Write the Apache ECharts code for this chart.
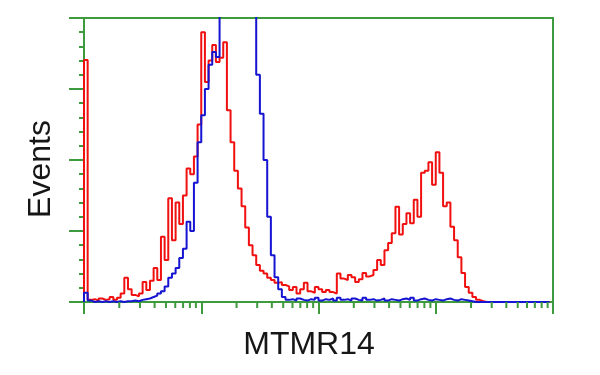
<!DOCTYPE html>
<html><head><meta charset="utf-8">
<script src="https://cdn.jsdelivr.net/npm/echarts@6/dist/echarts.min.js"></script>
<style>html,body{margin:0;padding:0;background:#fff}#c{width:600px;height:375px}</style>
</head><body><div id="c"></div>
<script>
// histogram channels: 32 bins per decade, 4 decades (left edges at 10^(i/32))
const BINS_PER_DECADE = 32;
const redCounts = [
  341,3,4,2,5,3,4,7,3,6,12,34,18,10,8,12,28,17,30,48,
  31,92,59,146,87,140,110,150,188,180,205,250,380,310,340,362,338,344,366,270,
  225,185,160,135,105,80,66,52,44,40,34,31,27,28,24,22,17,21,12,18,
  27,15,13,21,18,14,17,14,12,40,33,31,38,35,28,32,41,36,38,45,
  59,52,73,83,97,134,95,110,125,111,144,120,182,185,197,165,211,182,135,140,
  106,87,63,41,21,13,7,3,1,0,0,0,0,0,0,0,0,0,0,0,
  0,0,0,0,0,0,0,0
];
const blueCounts = [
  13,2,0,1,0,1,0,1,0,1,0,1,1,2,1,3,4,5,7,9,
  12,15,22,34,40,48,62,75,113,100,168,225,263,300,334,352,345,430,490,530,
  560,570,555,530,490,440,420,320,265,200,120,66,35,18,7,3,4,2,5,3,
  2,4,3,6,2,4,3,5,2,6,3,4,2,5,3,2,6,3,4,2,
  3,5,2,4,3,2,4,5,3,6,2,4,5,3,2,4,3,2,4,5,
  3,2,4,3,2,1,0,0,0,0,0,0,0,0,0,0,0,0,0,0,
  0,0,0,0,0,0,0,0
];
const xMinorTicks = [2,3,4,5,6,7,8,9,20,30,40,50,60,70,80,90,200,300,400,500,600,700,800,900,2000,3000,4000,5000,6000,7000,8000,9000];
const xTitle = 'MTMR14';
const yTitle = 'Events';

const GREEN = '#3d9a3d';
function toPairs(counts){
  const d = [[1,0]];
  counts.forEach((v,i)=>d.push([Math.pow(10, i/BINS_PER_DECADE), v]));
  return d;
}
const chart = echarts.init(document.getElementById('c'));
chart.setOption({
  animation:false,
  backgroundColor:'#fff',
  grid:{left:84,right:47,top:18,bottom:73,show:true,borderColor:GREEN,borderWidth:2,backgroundColor:'transparent'},
  xAxis:{type:'log',logBase:10,min:1,max:10000,
    axisLine:{show:true,lineStyle:{color:GREEN,width:2}},
    axisTick:{show:true,length:12,lineStyle:{color:GREEN,width:2}},
    axisLabel:{show:false},splitLine:{show:false}},
  yAxis:{type:'value',min:0,max:400,interval:100,
    axisLine:{show:true,lineStyle:{color:GREEN,width:2}},
    axisTick:{show:true,length:15,lineStyle:{color:GREEN,width:2}},
    minorTick:{show:true,splitNumber:5,length:5,lineStyle:{color:GREEN,width:2}},
    axisLabel:{show:false},splitLine:{show:false}},
  graphic:[
    {type:'text',x:41,y:169,rotation:Math.PI/2,style:{text:yTitle,fontSize:32,fontFamily:'Liberation Sans, Arial, sans-serif',fill:'#161616',textAlign:'center',textVerticalAlign:'middle'}},
    {type:'text',x:309,y:345,style:{text:xTitle,fontSize:32,fontFamily:'Liberation Sans, Arial, sans-serif',fill:'#161616',textAlign:'center',textVerticalAlign:'middle'}}
  ],
  series:[
    {type:'line',name:'red',step:'end',showSymbol:false,data:toPairs(redCounts),
      lineStyle:{color:'#f01010',width:2},itemStyle:{color:'#f01010'},z:2},
    {type:'line',name:'blue',step:'end',showSymbol:false,data:toPairs(blueCounts),
      lineStyle:{color:'#1414d2',width:2},itemStyle:{color:'#1414d2'},z:3},
    {type:'custom',coordinateSystem:'cartesian2d',silent:true,clip:false,z:4,
      data:xMinorTicks.map(v=>[v,0]),
      renderItem:function(params,api){
        const p = api.coord([api.value(0),0]);
        return {type:'line',shape:{x1:p[0],y1:p[1],x2:p[0],y2:p[1]+6},style:{stroke:GREEN,lineWidth:2}};
      }}
  ]
});
</script>
</body></html>
